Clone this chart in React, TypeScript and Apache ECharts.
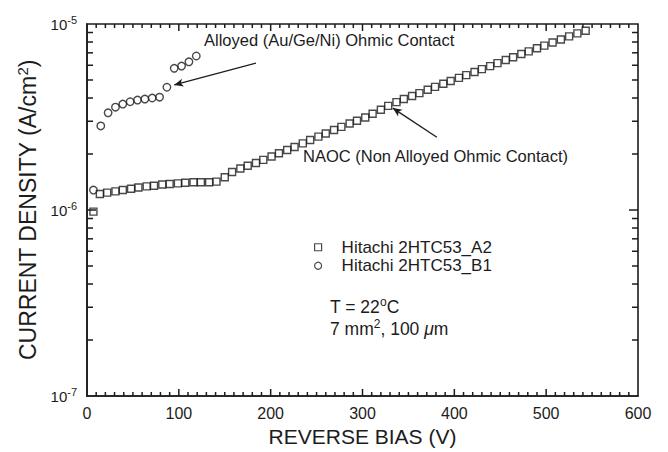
import React, { useEffect, useRef } from 'react';
import * as echarts from 'echarts';

// Reverse bias (V) and current density (units of 1e-6 A/cm²)
const biasA2 = [7, 14, 22, 31, 39, 48, 56, 65, 73, 82, 90, 99, 107, 116, 124, 133, 141, 150, 158, 167, 175, 184, 192, 201, 209, 218, 226, 235, 243, 252, 260, 269, 277, 286, 294, 303, 311, 320, 328, 337, 345, 354, 362, 371, 379, 388, 396, 405, 413, 422, 430, 439, 447, 456, 464, 473, 481, 490, 498, 507, 516, 525, 534, 543];
const densityA2 = [0.98, 1.22, 1.24, 1.26, 1.28, 1.30, 1.32, 1.34, 1.35, 1.37, 1.38, 1.39, 1.40, 1.41, 1.41, 1.41, 1.42, 1.50, 1.60, 1.67, 1.73, 1.79, 1.86, 1.94, 2.02, 2.10, 2.18, 2.28, 2.38, 2.48, 2.58, 2.69, 2.80, 2.92, 3.02, 3.14, 3.29, 3.46, 3.63, 3.80, 3.95, 4.10, 4.25, 4.43, 4.59, 4.77, 4.94, 5.13, 5.31, 5.52, 5.72, 5.94, 6.16, 6.40, 6.63, 6.90, 7.13, 7.40, 7.65, 7.95, 8.25, 8.58, 8.90, 9.20];

const biasB1 = [7, 15, 23, 31, 39, 47, 55, 63, 71, 79, 87, 95, 103, 111, 119];
const densityB1 = [1.28, 2.83, 3.33, 3.57, 3.71, 3.82, 3.90, 3.95, 4.00, 4.04, 4.57, 5.78, 5.94, 6.26, 6.73];

const UNIT = 1e-6;

const seriesNames = ['Hitachi 2HTC53_A2', 'Hitachi 2HTC53_B1'];
const xTicks = [0, 100, 200, 300, 400, 500, 600];
const xMinorStep = 10;
const yDecades = [1e-7, 1e-6, 1e-5];
const minorMantissas = [2, 3, 4, 5, 6, 7, 8, 9];

// annotation arrows: [fromBias, fromDensity, toBias, toDensity]
const alloyArrow = [184, 6.16, 95, 4.7];
const naocArrow = [381, 2.46, 333, 3.53];

const FONT = 'Liberation Sans, Arial, Helvetica, sans-serif';
const INK = '#1c1c1c';

export default function App() {
  const ref = useRef<HTMLDivElement>(null);

  useEffect(() => {
    if (!ref.current) return;
    const chart = echarts.init(ref.current, null, { renderer: 'svg' });

    const yLabelFmt = (v: number) => {
      const e = Math.round(Math.log10(v));
      return `{b|10}{s|${e}}`;
    };

    const xMin = xTicks[0];
    const xMax = xTicks[xTicks.length - 1];
    const yMin = yDecades[0];
    const yMax = yDecades[yDecades.length - 1];

    // tick positions (axis decoration)
    const xMajor = xTicks.slice(1, -1);
    const xMinor: number[] = [];
    for (let i = 0; i < xTicks.length - 1; i++) {
      for (let v = xTicks[i] + xMinorStep; v < xTicks[i + 1]; v += xMinorStep) xMinor.push(v);
    }
    const yMajor = yDecades.slice(1, -1);
    const yMinor: number[] = [];
    for (let d = 0; d < yDecades.length - 1; d++) for (const m of minorMantissas) yMinor.push(m * yDecades[d]);

    const TW = 1.5;
    const tickSeries = (data: number[][], size: number[], offset: number[]) => ({
      type: 'scatter',
      silent: true,
      clip: false,
      z: 6,
      symbol: 'rect',
      symbolSize: size,
      symbolOffset: offset,
      itemStyle: { color: INK, opacity: 1 },
      emphasis: { disabled: true },
      data,
    });

    chart.setOption({
      animation: false,
      textStyle: { fontFamily: FONT },
      grid: { left: 87, right: 30, top: 24, bottom: 56, show: true, borderColor: INK, borderWidth: 1.6, backgroundColor: 'transparent' },
      legend: {
        orient: 'vertical',
        left: 309,
        top: 233,
        itemWidth: 7,
        itemHeight: 7,
        itemGap: 0,
        selectedMode: false,
        data: [
          { name: seriesNames[0], icon: 'rect', itemStyle: { color: 'rgba(0,0,0,0)', borderColor: INK, borderWidth: 1.2 } },
          { name: seriesNames[1], icon: 'circle', itemStyle: { color: 'rgba(0,0,0,0)', borderColor: INK, borderWidth: 1.2 } },
        ],
        textStyle: { fontFamily: FONT, fontSize: 17, color: INK, padding: [0, 0, 0, 15], lineHeight: 18.5 },
      },
      xAxis: {
        type: 'value',
        min: xMin,
        max: xMax,
        interval: 100,
        name: 'REVERSE BIAS (V)',
        nameLocation: 'middle',
        nameGap: 30,
        nameTextStyle: { fontFamily: FONT, fontSize: 21, color: INK },
        axisLine: { show: true, onZero: false, lineStyle: { color: INK, width: 1.6 } },
        axisTick: { show: false },
        axisLabel: { fontFamily: FONT, fontSize: 16, color: INK, margin: 9 },
        splitLine: { show: false },
      },
      yAxis: {
        type: 'log',
        logBase: 10,
        min: yMin,
        max: yMax,
        name: 'CURRENT DENSITY (A/cm{sup|2})',
        nameLocation: 'middle',
        nameRotate: 90,
        nameGap: 43,
        nameTextStyle: {
          fontFamily: FONT,
          fontSize: 23,
          color: INK,
          rich: { sup: { fontFamily: FONT, fontSize: 15, color: INK, padding: [0, 0, 11, 0] } },
        },
        axisLine: { show: true, onZero: false, lineStyle: { color: INK, width: 1.6 } },
        axisTick: { show: false },
        axisLabel: {
          margin: 10,
          formatter: yLabelFmt,
          rich: {
            b: { fontFamily: FONT, fontSize: 15, color: INK },
            s: { fontFamily: FONT, fontSize: 11, color: INK, padding: [0, 0, 9, 0] },
          },
        },
        splitLine: { show: false },
      },
      series: [
        {
          name: seriesNames[0],
          type: 'scatter',
          symbol: 'rect',
          symbolSize: 7,
          itemStyle: { color: 'rgba(0,0,0,0)', borderColor: INK, borderWidth: 1.4 },
          data: biasA2.map((b, i) => [b, densityA2[i] * UNIT]),
          markLine: {
            silent: true,
            symbol: ['none', 'arrow'],
            symbolSize: [6, 9],
            label: { show: false },
            lineStyle: { color: INK, width: 1.3, type: 'solid' },
            data: [
              [
                { coord: [naocArrow[0], naocArrow[1] * UNIT] },
                { coord: [naocArrow[2], naocArrow[3] * UNIT] },
              ],
              [
                { coord: [alloyArrow[0], alloyArrow[1] * UNIT] },
                { coord: [alloyArrow[2], alloyArrow[3] * UNIT] },
              ],
            ],
          },
        },
        {
          name: seriesNames[1],
          type: 'scatter',
          symbol: 'circle',
          symbolSize: 7.5,
          itemStyle: { color: 'rgba(0,0,0,0)', borderColor: INK, borderWidth: 1.4 },
          data: biasB1.map((b, i) => [b, densityB1[i] * UNIT]),
        },
        // tick marks on four sides (inside)
        tickSeries(xMajor.map((v) => [v, yMin]), [TW, 7], [0, -3.5]),
        tickSeries(xMajor.map((v) => [v, yMax]), [TW, 7], [0, 3.5]),
        tickSeries(xMinor.map((v) => [v, yMin]), [TW, 4], [0, -2]),
        tickSeries(xMinor.map((v) => [v, yMax]), [TW, 4], [0, 2]),
        tickSeries(yMajor.map((v) => [xMin, v]), [9, TW], [4.5, 0]),
        tickSeries(yMajor.map((v) => [xMax, v]), [9, TW], [-4.5, 0]),
        tickSeries(yMinor.map((v) => [xMin, v]), [6, TW], [3, 0]),
        tickSeries(yMinor.map((v) => [xMax, v]), [6, TW], [-3, 0]),
      ],
      graphic: [
        {
          type: 'text',
          left: 204,
          top: 31,
          style: { text: 'Alloyed (Au/Ge/Ni) Ohmic Contact', fontFamily: FONT, fontSize: 16.5, fill: INK },
        },
        {
          type: 'text',
          left: 303,
          top: 147,
          style: { text: 'NAOC (Non Alloyed Ohmic Contact)', fontFamily: FONT, fontSize: 16.5, fill: INK },
        },
        {
          type: 'text',
          left: 330,
          top: 296,
          style: {
            text: 'T = 22{sup|o}C',
            fontFamily: FONT,
            fontSize: 17.5,
            fill: INK,
            rich: { sup: { fontFamily: FONT, fontSize: 12, fill: INK, padding: [0, 0, 9, 0] } },
          },
        },
        {
          type: 'text',
          left: 330,
          top: 318,
          style: {
            text: '7 mm{sup|2}, 100 {mu|μ}m',
            fontFamily: FONT,
            fontSize: 17.5,
            fill: INK,
            rich: {
              sup: { fontFamily: FONT, fontSize: 12, fill: INK, padding: [0, 0, 9, 0] },
              mu: { fontFamily: FONT, fontSize: 17.5, fontStyle: 'italic', fill: INK },
            },
          },
        },
      ],
    });

    return () => chart.dispose();
  }, []);

  return <div ref={ref} style={{ position: 'fixed', left: 0, top: 0, width: 668, height: 452, background: '#fff' }} />;
}
